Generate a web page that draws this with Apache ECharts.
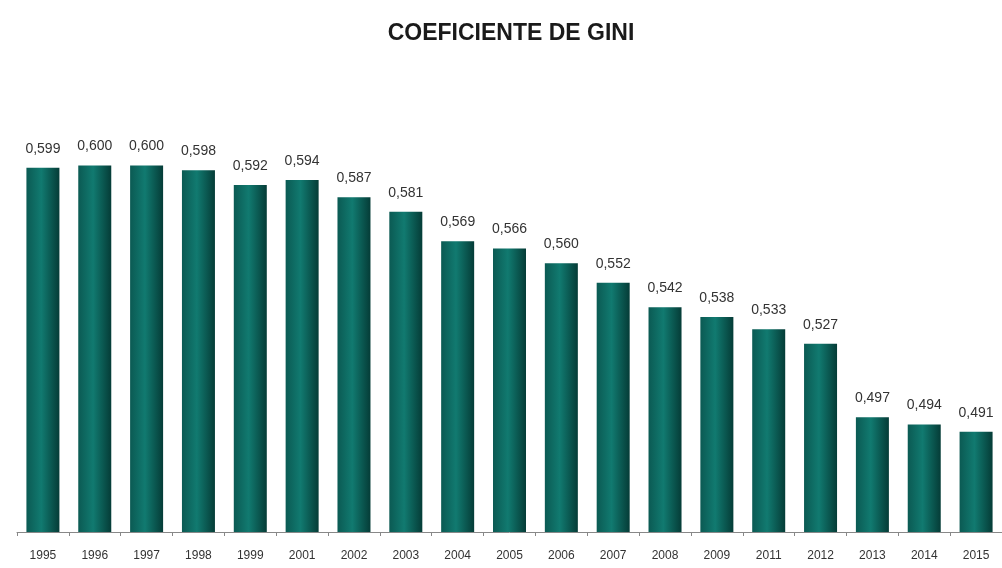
<!DOCTYPE html>
<html><head><meta charset="utf-8">
<script src="https://cdn.jsdelivr.net/npm/echarts@6/dist/echarts.min.js"></script>
<style>html,body{margin:0;padding:0;background:#fff}#c{width:1002px;height:568px}</style>
</head><body><div id="c"></div>
<script>
const years = ['1995','1996','1997','1998','1999','2001','2002','2003','2004','2005','2006','2007','2008','2009','2011','2012','2013','2014','2015'];
const gini = [0.599,0.600,0.600,0.598,0.592,0.594,0.587,0.581,0.569,0.566,0.560,0.552,0.542,0.538,0.533,0.527,0.497,0.494,0.491];
const chart = echarts.init(document.getElementById('c'));
chart.setOption({
  animation:false,
  backgroundColor:'#fff',
  title:{text:'COEFICIENTE DE GINI',left:506,top:17,textAlign:'center',
    textStyle:{fontFamily:'Liberation Sans, Arial',fontWeight:'bold',fontSize:23,color:'#1a1a1a'}},
  grid:{left:17,width:988,top:165.4,bottom:36,containLabel:false},
  xAxis:{type:'category',data:years,boundaryGap:true,
    axisLine:{lineStyle:{color:'#888',width:1}},
    axisTick:{show:true,length:4,lineStyle:{color:'#888'}},
    axisLabel:{interval:0,margin:18,fontFamily:'Liberation Sans, Arial',fontSize:12,color:'#333'}},
  yAxis:{type:'value',min:0.45,max:0.6,show:false,splitLine:{show:false}},
  series:[{type:'bar',data:gini,barWidth:33,
    itemStyle:{color:new echarts.graphic.LinearGradient(0,0,1,0,[
      {offset:0,color:'#0b5a53'},{offset:0.45,color:'#117a70'},{offset:1,color:'#053c37'}])},
    label:{show:true,position:'top',distance:12,fontFamily:'Liberation Sans, Arial',fontSize:14,color:'#333',
      formatter:p=>p.value.toFixed(3).replace('.',',')}}]
});
</script></body></html>
